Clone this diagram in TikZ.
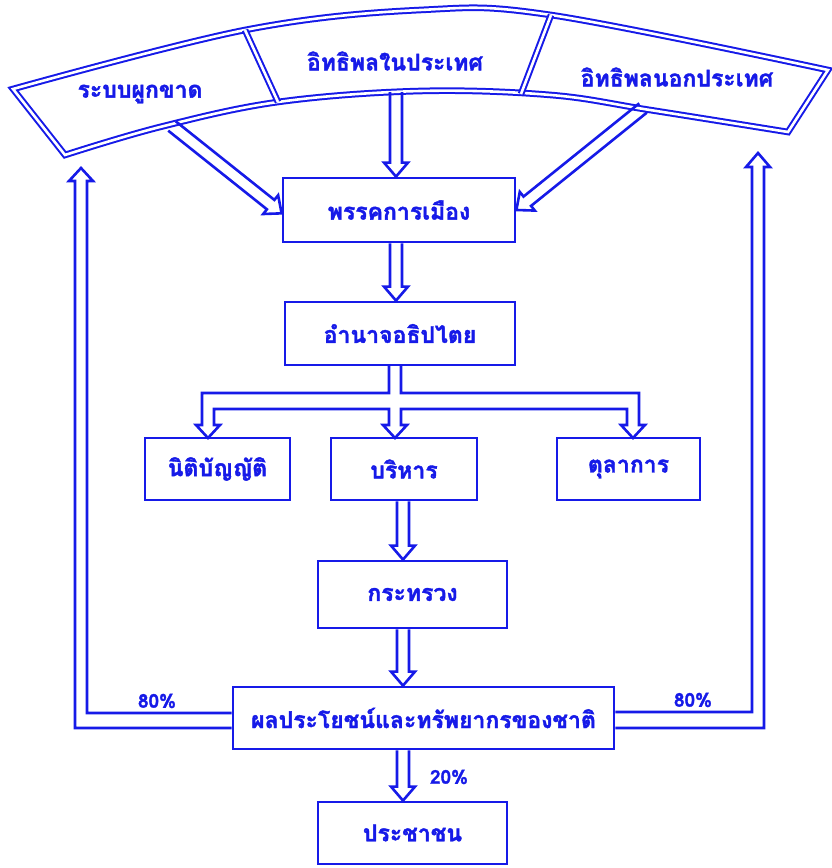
\documentclass[tikz,border=0pt]{standalone}
\usepackage{fontspec}
\newfontfamily\thaifont[Script=Thai, FakeBold=1.6]{Loma}
\usetikzlibrary{calc}
\definecolor{bl}{RGB}{22,26,232}
\tikzset{
  box/.style={draw=bl, line width=2.8pt, text=bl, font=\thaifont\bfseries\fontsize{23}{26}\selectfont, inner sep=0pt},
  arrline/.style={draw=bl, line width=2.6pt, line join=miter},
  band/.style={draw=bl, double=white, line width=2pt, double distance=2.6pt, line join=miter},
  lbl/.style={text=bl, font=\thaifont\bfseries\fontsize{23}{26}\selectfont},
  pct/.style={text=bl, font=\thaifont\bfseries\fontsize{19}{21}\selectfont},
}
\newcommand\harrow[2]{%
  \coordinate (ha-s) at (#1);
  \coordinate (ha-t) at (#2);
  \coordinate (ha-h) at ($(ha-t)!14pt!(ha-s)$);
  \draw[arrline] ($(ha-s)!6pt!90:(ha-t)$) -- ($(ha-h)!6pt!90:(ha-t)$) -- ($(ha-h)!12pt!90:(ha-t)$) -- (ha-t)
     -- ($(ha-h)!12pt!-90:(ha-t)$) -- ($(ha-h)!6pt!-90:(ha-t)$) -- ($(ha-s)!6pt!-90:(ha-t)$);
}
\begin{document}
\begin{tikzpicture}[x=1pt,y=-1pt]
\useasboundingbox (0,0) rectangle (831,868);
\fill[white] (0,0) rectangle (831,868);

% top band
\draw[band] plot[smooth, tension=0.6] coordinates {(13,89) (245,30) (420,10) (551,15) (828,70)}
  -- (788,132)
  -- plot[smooth, tension=0.6] coordinates {(788,132) (650,110) (551,95) (420,91) (278,102) (160,127) (65,155)}
  -- cycle;
\draw[band] (245,30) -- (278,102);
\draw[band] (551,15) -- (521,94);

\node[lbl] (mono) at (140,94) {ระบบผูกขาด};
\node[lbl] (inf) at (395,61) {อิทธิพลในประเทศ};
\node[lbl] (outf) at (677,77) {อิทธิพลนอกประเทศ};

% boxes
\node[box, minimum width=232pt, minimum height=64pt] (party) at (399,210) {พรรคการเมือง};
\node[box, minimum width=230pt, minimum height=63pt] (sov) at (400,333.5) {อำนาจอธิปไตย};
\node[box, minimum width=145pt, minimum height=62pt] (leg) at (217.5,469) {นิติบัญญัติ};
\node[box, minimum width=146pt, minimum height=62pt] (exec) at (404,469) {บริหาร};
\node[box, minimum width=143pt, minimum height=62pt] (jud) at (628.5,469) {ตุลาการ};
\node[box, minimum width=189pt, minimum height=67pt] (min) at (412.5,594.5) {กระทรวง};
\node[box, minimum width=381pt, minimum height=62pt] (nat) at (423.5,718) {ผลประโยชน์และทรัพยากรของชาติ};
\node[box, minimum width=189pt, minimum height=62pt] (ppl) at (412.5,833) {ประชาชน};

% arrows from band
\coordinate (bandL) at (172,126);
\coordinate (bandM) at (396,92);
\coordinate (bandR) at (643,108);
\harrow{bandL}{$(party.north west)!0.55!(party.south west)$}
\harrow{bandM}{party.north -| bandM}
\harrow{bandR}{$(party.north east)!0.5!(party.south east)$}

% vertical arrows
\harrow{party.south -| bandM}{sov.north -| bandM}
\coordinate (cx) at (403,0);
\harrow{exec.south -| cx}{min.north -| cx}
\harrow{min.south -| cx}{nat.north -| cx}
\harrow{nat.south -| cx}{ppl.north -| cx}

% branching from sovereignty
\draw[arrline] (389,365) -- (389,393) -- (202,393) -- (202,425) -- (196,425) -- (208,438) -- (220,425) -- (214,425)
  -- (214,409) -- (389,409) -- (389,425) -- (383,425) -- (395,438) -- (407,425) -- (401,425)
  -- (401,409) -- (627,409) -- (627,425) -- (621,425) -- (633,438) -- (645,425) -- (639,425)
  -- (639,393) -- (401,393) -- (401,365);

% return loops
\draw[arrline] (nat.west |- 0,728) -- (75,728) -- (75,181) -- (69,181) -- (81,168) -- (93,181) -- (87,181) -- (87,713) -- (nat.west |- 0,713);
\draw[arrline] (nat.east |- 0,712) -- (752,712) -- (752,167) -- (746,167) -- (758,153) -- (770,167) -- (764,167) -- (764,728) -- (nat.east |- 0,728);

\node[pct] (p1) at (157,701) {80\%};
\node[pct] (p2) at (693,700) {80\%};
\node[pct] (p3) at (449,777) {20\%};
\end{tikzpicture}
\end{document}
